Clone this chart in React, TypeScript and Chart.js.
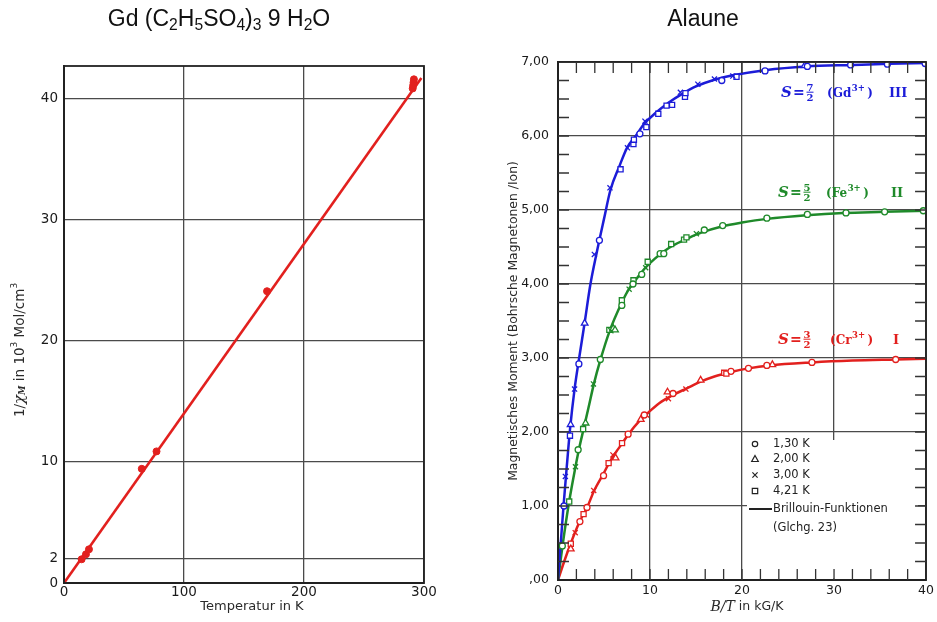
import React, { useEffect, useRef } from "react";
import { Chart, registerables } from "chart.js";

Chart.register(...registerables);

const SANS = '"DejaVu Sans", "Liberation Sans", sans-serif';
const SERIF = '"DejaVu Serif", "Liberation Serif", serif';
const RED = "#e2201e";
const GREEN = "#1f8a2a";
const BLUE = "#1c1cd8";
const GRID = "#4a4a4a";
const INK = "#222222";
const LABEL = "#1a1a1a";

// ---------- Left chart: Gd (C2H5SO4)3 9 H2O ----------
const gdTemperature = [14.7, 18.3, 20.8, 64.8, 77.1, 169.2, 290.6, 291.0, 291.3, 291.6];
const gdInverseChi = [1.96, 2.37, 2.78, 9.43, 10.87, 24.1, 40.85, 41.1, 41.35, 41.6];
const gdFitTemperature = [0, 297.8];
const gdFitInverseChi = [0, 41.7];
const leftXTicks = [0, 100, 200, 300];
const leftYTicks = [0, 2, 10, 20, 30, 40];

// ---------- Right chart: Alaune ----------
const rightXTicks = [0, 10, 20, 30, 40];
const rightYTicks = [0, 1, 2, 3, 4, 5, 6, 7];
const rightYTickLabels = [",00", "1,00", "2,00", "3,00", "4,00", "5,00", "6,00", "7,00"];
const minorXTicks = [2, 4, 6, 8, 10, 12, 14, 16, 18, 20, 22, 24, 26, 28, 30, 32, 34, 36, 38];
const minorYTicks = [
  0.25, 0.5, 0.75, 1, 1.25, 1.5, 1.75, 2, 2.25, 2.5, 2.75, 3, 3.25, 3.5, 3.75, 4,
  4.25, 4.5, 4.75, 5, 5.25, 5.5, 5.75, 6, 6.25, 6.5, 6.75,
];

// Brillouin curves
const gdCurve: [number, number][] = [
  [0, 0], [0.3, 0.5], [0.6, 1.0], [1.0, 1.6], [1.3, 2.03], [1.8, 2.58], [2.3, 3.0],
  [2.9, 3.48], [3.5, 3.98], [4.2, 4.42], [5.0, 4.88], [5.7, 5.27], [6.7, 5.6], [7.5, 5.84],
  [8.5, 6.01], [9.4, 6.17], [10.5, 6.3], [12, 6.45], [13.5, 6.57], [15, 6.67], [17, 6.76],
  [19, 6.82], [22.5, 6.89], [27, 6.94], [32, 6.96], [36, 6.975], [40, 6.985],
];
const feCurve: [number, number][] = [
  [0, 0], [0.5, 0.47], [1.2, 1.05], [1.9, 1.53], [2.3, 1.78], [2.8, 2.05], [3.3, 2.32],
  [3.9, 2.65], [4.6, 2.97], [5.6, 3.36], [6.9, 3.74], [7.8, 3.95], [8.6, 4.08], [9.5, 4.22],
  [10.5, 4.34], [11.5, 4.44], [12.5, 4.52], [14, 4.61], [15.5, 4.69], [17.9, 4.78],
  [20, 4.83], [22.7, 4.88], [27, 4.93], [31, 4.96], [35.5, 4.975], [40, 4.99],
];
const crCurve: [number, number][] = [
  [0, 0], [0.7, 0.26], [1.4, 0.5], [1.9, 0.66], [2.4, 0.8], [3.2, 0.99], [3.9, 1.2],
  [5.0, 1.45], [5.5, 1.57], [6.2, 1.71], [7.0, 1.85], [7.6, 1.96], [9.0, 2.17], [9.6, 2.24],
  [11, 2.39], [12.5, 2.5], [14, 2.59], [15.5, 2.68], [17, 2.75], [18.8, 2.81], [20.7, 2.86],
  [23, 2.9], [27.6, 2.94], [32, 2.965], [36.7, 2.98], [40, 2.99],
];

// Measured points, Gd3+
const gdCircle: [number, number][] = [
  [0.65, 1.0], [2.27, 2.92], [4.5, 4.59], [8.9, 6.03], [17.8, 6.75], [22.5, 6.88],
  [27.1, 6.94], [31.8, 6.96], [35.8, 6.97], [39.9, 6.98],
];
const gdTriangle: [number, number][] = [[1.37, 2.1], [2.9, 3.47], [26.8, 6.95]];
const gdCross: [number, number][] = [
  [0.8, 1.4], [1.8, 2.58], [3.95, 4.4], [5.65, 5.3], [7.55, 5.84], [9.45, 6.2], [13.3, 6.59],
  [15.2, 6.7], [17.0, 6.77], [19.0, 6.81],
];
const gdSquare: [number, number][] = [
  [1.3, 1.95], [6.8, 5.55], [8.2, 5.89], [8.25, 5.95], [9.6, 6.12], [10.9, 6.3], [11.8, 6.41],
  [12.4, 6.42], [13.8, 6.53], [13.85, 6.58], [19.4, 6.8],
];

// Measured points, Fe3+
const feCircle: [number, number][] = [
  [0.47, 0.46], [2.19, 1.76], [4.6, 2.98], [6.94, 3.71], [8.15, 4.0], [9.1, 4.13], [11.1, 4.41],
  [11.5, 4.41], [15.9, 4.73], [17.9, 4.79], [22.7, 4.89], [27.1, 4.94], [31.3, 4.96],
  [35.5, 4.975], [39.7, 4.99],
];
const feTriangle: [number, number][] = [[3.0, 2.12], [6.0, 3.4], [6.2, 3.38]];
const feCross: [number, number][] = [
  [1.9, 1.53], [3.85, 2.65], [5.75, 3.37], [7.73, 3.93], [9.53, 4.22], [15.04, 4.68],
];
const feSquare: [number, number][] = [
  [1.22, 1.06], [2.73, 2.04], [5.58, 3.38], [6.94, 3.78], [8.2, 4.05], [9.75, 4.3],
  [12.3, 4.54], [13.7, 4.6], [13.96, 4.63],
];

// Measured points, Cr3+
const crCircle: [number, number][] = [
  [2.38, 0.79], [3.15, 0.98], [4.95, 1.41], [7.62, 1.97], [9.38, 2.23], [12.5, 2.52],
  [18.8, 2.82], [20.7, 2.86], [22.7, 2.9], [27.6, 2.94], [36.7, 2.98],
];
const crTriangle: [number, number][] = [
  [1.39, 0.42], [6.26, 1.65], [9.0, 2.17], [11.9, 2.54], [15.5, 2.7], [23.3, 2.91],
];
const crCross: [number, number][] = [
  [1.87, 0.64], [3.88, 1.21], [5.97, 1.69], [9.63, 2.23], [12.0, 2.45], [13.9, 2.58],
];
const crSquare: [number, number][] = [
  [1.39, 0.49], [2.78, 0.89], [5.5, 1.58], [6.96, 1.85], [18.06, 2.8], [18.3, 2.79],
];

const legendLabels = ["1,30 K", "2,00 K", "3,00 K", "4,21 K"];
const legendStyles = ["circle", "triangle", "crossRot", "rect"];
const curveLegendLines = ["Brillouin-Funktionen", "(Glchg. 23)"];

const toXY = (pairs: [number, number][]) => pairs.map(([x, y]) => ({ x, y }));

// ---------- helpers ----------
type Run = { text: string; font: string; dy?: number };
function runsWidth(ctx: CanvasRenderingContext2D, runs: Run[]) {
  let w = 0;
  for (const r of runs) {
    ctx.font = r.font;
    w += ctx.measureText(r.text).width;
  }
  return w;
}
function drawRuns(ctx: CanvasRenderingContext2D, runs: Run[], x: number, y: number) {
  let cx = x;
  for (const r of runs) {
    ctx.font = r.font;
    ctx.fillText(r.text, cx, y + (r.dy || 0));
    cx += ctx.measureText(r.text).width;
  }
}
function drawRunsCentered(ctx: CanvasRenderingContext2D, runs: Run[], cx: number, cy: number, rotate: boolean) {
  ctx.save();
  ctx.translate(cx, cy);
  if (rotate) ctx.rotate(-Math.PI / 2);
  ctx.textAlign = "left";
  ctx.textBaseline = "middle";
  const w = runsWidth(ctx, runs);
  drawRuns(ctx, runs, -w / 2, 0);
  ctx.restore();
}
function drawMarker(ctx: CanvasRenderingContext2D, style: string, x: number, y: number) {
  ctx.beginPath();
  if (style === "circle") {
    ctx.arc(x, y, 2.7, 0, Math.PI * 2);
  } else if (style === "triangle") {
    ctx.moveTo(x, y - 3.5);
    ctx.lineTo(x + 3.3, y + 2.5);
    ctx.lineTo(x - 3.3, y + 2.5);
    ctx.closePath();
  } else if (style === "crossRot") {
    ctx.moveTo(x - 2.6, y - 2.6);
    ctx.lineTo(x + 2.6, y + 2.6);
    ctx.moveTo(x + 2.6, y - 2.6);
    ctx.lineTo(x - 2.6, y + 2.6);
  } else {
    ctx.rect(x - 2.7, y - 2.7, 5.4, 5.4);
  }
  ctx.stroke();
}
function drawSpinLabel(
  ctx: CanvasRenderingContext2D,
  color: string,
  x0: number,
  base: number,
  num: string,
  ion: string,
  roman: string,
  romanX: number,
  ionX: number
) {
  ctx.save();
  ctx.fillStyle = color;
  ctx.strokeStyle = color;
  ctx.textBaseline = "alphabetic";
  ctx.textAlign = "left";
  ctx.font = `italic bold 15px ${SERIF}`;
  ctx.fillText("S", x0, base);
  ctx.font = `bold 14px ${SERIF}`;
  ctx.fillText("=", x0 + 12, base);
  const fx = x0 + 29;
  ctx.font = `bold 10px ${SERIF}`;
  ctx.textAlign = "center";
  ctx.fillText(num, fx, base - 6.5);
  ctx.fillText("2", fx, base + 4);
  ctx.lineWidth = 1;
  ctx.beginPath();
  ctx.moveTo(fx - 3.5, base - 4.8);
  ctx.lineTo(fx + 3.5, base - 4.8);
  ctx.stroke();
  ctx.textAlign = "left";
  let cx = ionX;
  ctx.font = `bold 12px ${SERIF}`;
  ctx.fillText("(" + ion, cx, base);
  cx += ctx.measureText("(" + ion).width + 0.5;
  ctx.font = `bold 8.5px ${SERIF}`;
  ctx.fillText("3+", cx, base - 6.5);
  cx += ctx.measureText("3+").width + 2.5;
  ctx.font = `bold 12px ${SERIF}`;
  ctx.fillText(")", cx, base);
  ctx.font = `bold 13px ${SERIF}`;
  ctx.fillText(roman, romanX, base);
  ctx.restore();
}

// ---------- plugins ----------
const leftDecor = {
  id: "leftDecor",
  afterDraw(chart: any) {
    const { ctx, chartArea: a } = chart;
    ctx.save();
    ctx.strokeStyle = INK;
    ctx.lineWidth = 1.8;
    ctx.strokeRect(a.left, a.top, a.right - a.left, a.bottom - a.top);
    ctx.fillStyle = "#2a2a2a";
    drawRunsCentered(ctx, [{ text: "Temperatur in K", font: `13px ${SANS}` }], 252, 607, false);
    drawRunsCentered(
      ctx,
      [
        { text: "1/", font: `13.5px ${SANS}` },
        { text: "χ", font: `italic 15px ${SERIF}` },
        { text: "M", font: `italic bold 8.5px ${SERIF}`, dy: 3 },
        { text: " in 10", font: `13.5px ${SANS}` },
        { text: "3", font: `9px ${SANS}`, dy: -5 },
        { text: " Mol/cm", font: `13.5px ${SANS}` },
        { text: "3", font: `9px ${SANS}`, dy: -5 },
      ],
      20,
      350,
      true
    );
    ctx.restore();
  },
};

const rightDecor = {
  id: "rightDecor",
  beforeDatasetsDraw(chart: any) {
    const { ctx, chartArea: a } = chart;
    ctx.save();
    ctx.fillStyle = "#ffffff";
    ctx.fillRect(277, 440, 448 - 277, a.bottom - 1.5 - 440);
    ctx.restore();
  },
  afterDraw(chart: any) {
    const { ctx, chartArea: a, scales } = chart;
    const xs = scales.x;
    const ys = scales.y;
    ctx.save();
    ctx.strokeStyle = INK;
    ctx.lineWidth = 1.8;
    ctx.strokeRect(a.left, a.top, a.right - a.left, a.bottom - a.top);
    ctx.lineWidth = 1.3;
    ctx.strokeStyle = "#333";
    ctx.beginPath();
    for (const v of minorXTicks) {
      const px = xs.getPixelForValue(v);
      ctx.moveTo(px, a.top);
      ctx.lineTo(px, a.top + 11);
      ctx.moveTo(px, a.bottom);
      ctx.lineTo(px, a.bottom - 11);
    }
    for (const v of minorYTicks) {
      const py = ys.getPixelForValue(v);
      ctx.moveTo(a.left, py);
      ctx.lineTo(a.left + 11, py);
      ctx.moveTo(a.right, py);
      ctx.lineTo(a.right - 11, py);
    }
    ctx.stroke();

    // legend
    ctx.strokeStyle = "#222";
    ctx.fillStyle = "#222";
    ctx.lineWidth = 1.2;
    const rowY = [444, 459, 475, 491];
    legendLabels.forEach((lab, i) => {
      drawMarker(ctx, legendStyles[i], 285, rowY[i]);
      ctx.font = `11.5px ${SANS}`;
      ctx.textAlign = "left";
      ctx.textBaseline = "middle";
      ctx.fillText(lab, 303, rowY[i]);
    });
    ctx.lineWidth = 2;
    ctx.beginPath();
    ctx.moveTo(279, 509);
    ctx.lineTo(302, 509);
    ctx.stroke();
    ctx.font = `11.5px ${SANS}`;
    ctx.fillText(curveLegendLines[0], 303, 509);
    ctx.fillText(curveLegendLines[1], 303, 528);

    // curve labels
    drawSpinLabel(ctx, BLUE, 311, 97, "7", "Gd", "III", 419, 357);
    drawSpinLabel(ctx, GREEN, 308, 197, "5", "Fe", "II", 421, 356);
    drawSpinLabel(ctx, RED, 308, 344, "3", "Cr", "I", 423, 360);

    // axis titles
    ctx.fillStyle = "#2a2a2a";
    drawRunsCentered(
      ctx,
      [
        { text: "B/T", font: `italic 14px ${SERIF}` },
        { text: " in kG/K", font: `12.5px ${SANS}` },
      ],
      277,
      607,
      false
    );
    drawRunsCentered(
      ctx,
      [{ text: "Magnetisches Moment (Bohrsche Magnetonen /Ion)", font: `12.4px ${SANS}` }],
      44,
      321,
      true
    );
    ctx.restore();
  },
};

function markerSet(data: [number, number][], color: string, style: string) {
  return {
    type: "scatter",
    data: toXY(data),
    pointStyle: style,
    pointRadius: style === "circle" ? 3 : style === "triangle" ? 3.8 : 3.6,
    pointBorderWidth: 1.3,
    borderColor: color,
    backgroundColor: "#ffffff",
    showLine: false,
    order: 1,
  };
}
function curveSet(data: [number, number][], color: string) {
  return {
    type: "line",
    data: toXY(data),
    borderColor: color,
    borderWidth: 2.5,
    pointRadius: 0,
    showLine: true,
    fill: false,
    cubicInterpolationMode: "monotone",
    order: 2,
  };
}

export default function App() {
  const leftRef = useRef<HTMLCanvasElement>(null);
  const rightRef = useRef<HTMLCanvasElement>(null);

  useEffect(() => {
    const left = new Chart(leftRef.current as HTMLCanvasElement, {
      type: "scatter",
      data: {
        datasets: [
          {
            type: "line",
            data: gdFitTemperature.map((t, i) => ({ x: t, y: gdFitInverseChi[i] })),
            borderColor: RED,
            borderWidth: 2.6,
            pointRadius: 0,
            order: 2,
          } as any,
          {
            type: "scatter",
            data: gdTemperature.map((t, i) => ({ x: t, y: gdInverseChi[i] })),
            backgroundColor: RED,
            borderColor: RED,
            pointRadius: 3.5,
            order: 1,
          } as any,
        ],
      },
      options: {
        responsive: false,
        animation: false,
        layout: { padding: { left: 0, right: 46, top: 66, bottom: 0 } },
        plugins: { legend: { display: false }, tooltip: { enabled: false } },
        scales: {
          x: {
            type: "linear",
            min: 0,
            max: 300,
            afterBuildTicks: (s: any) => {
              s.ticks = leftXTicks.map((v) => ({ value: v }));
            },
            afterFit: (s: any) => {
              s.height = 39;
            },
            grid: { color: GRID, lineWidth: 1.3, drawTicks: false },
            border: { color: INK, width: 2 },
            ticks: { color: LABEL, font: { family: SANS, size: 13.5 }, padding: 1, maxRotation: 0 },
          },
          y: {
            type: "linear",
            min: 0,
            max: 42.7,
            afterBuildTicks: (s: any) => {
              s.ticks = leftYTicks.map((v) => ({ value: v }));
            },
            afterFit: (s: any) => {
              s.width = 64;
            },
            grid: { color: GRID, lineWidth: 1.3, drawTicks: false },
            border: { color: INK, width: 2 },
            ticks: { color: LABEL, font: { family: SANS, size: 13.5 }, padding: 6 },
          },
        },
      } as any,
      plugins: [leftDecor],
    });

    const right = new Chart(rightRef.current as HTMLCanvasElement, {
      type: "scatter",
      data: {
        datasets: [
          curveSet(gdCurve, BLUE),
          curveSet(feCurve, GREEN),
          curveSet(crCurve, RED),
          markerSet(gdCircle, BLUE, "circle"),
          markerSet(gdTriangle, BLUE, "triangle"),
          markerSet(gdCross, BLUE, "crossRot"),
          markerSet(gdSquare, BLUE, "rect"),
          markerSet(feCircle, GREEN, "circle"),
          markerSet(feTriangle, GREEN, "triangle"),
          markerSet(feCross, GREEN, "crossRot"),
          markerSet(feSquare, GREEN, "rect"),
          markerSet(crCircle, RED, "circle"),
          markerSet(crTriangle, RED, "triangle"),
          markerSet(crCross, RED, "crossRot"),
          markerSet(crSquare, RED, "rect"),
        ] as any,
      },
      options: {
        responsive: false,
        animation: false,
        layout: { padding: { left: 0, right: 10, top: 62, bottom: 0 } },
        plugins: { legend: { display: false }, tooltip: { enabled: false } },
        scales: {
          x: {
            type: "linear",
            min: 0,
            max: 40,
            afterBuildTicks: (s: any) => {
              s.ticks = rightXTicks.map((v) => ({ value: v }));
            },
            afterFit: (s: any) => {
              s.height = 42;
            },
            grid: { color: GRID, lineWidth: 1.3, drawTicks: false },
            border: { color: INK, width: 2 },
            ticks: { color: LABEL, font: { family: SANS, size: 12.5 }, padding: 3, maxRotation: 0 },
          },
          y: {
            type: "linear",
            min: 0,
            max: 7,
            afterBuildTicks: (s: any) => {
              s.ticks = rightYTicks.map((v) => ({ value: v }));
            },
            afterFit: (s: any) => {
              s.width = 88;
            },
            grid: { color: GRID, lineWidth: 1.3, drawTicks: false },
            border: { color: INK, width: 2 },
            ticks: {
              color: LABEL,
              font: { family: SANS, size: 12.5 },
              padding: 9,
              callback: (_v: any, i: number) => rightYTickLabels[i],
            },
          },
        },
      } as any,
      plugins: [rightDecor],
    });

    return () => {
      left.destroy();
      right.destroy();
    };
  }, []);

  const subStyle: React.CSSProperties = { fontSize: "0.68em", verticalAlign: "-0.28em", lineHeight: 0 };
  return (
    <div
      style={{
        position: "absolute",
        left: 0,
        top: 0,
        width: 937,
        height: 622,
        background: "#ffffff",
        overflow: "hidden",
        fontFamily: '"Liberation Sans", Arial, sans-serif',
      }}
    >
      <canvas ref={leftRef} width={470} height={622} style={{ position: "absolute", left: 0, top: 0 }} />
      <canvas ref={rightRef} width={467} height={622} style={{ position: "absolute", left: 470, top: 0 }} />
      <div
        style={{
          position: "absolute",
          left: 0,
          top: 5,
          width: 438,
          textAlign: "center",
          fontSize: 23,
          lineHeight: "26px",
          color: "#111",
        }}
      >
        Gd (C<sub style={subStyle}>2</sub>H<sub style={subStyle}>5</sub>SO<sub style={subStyle}>4</sub>)
        <sub style={subStyle}>3</sub> 9 H<sub style={subStyle}>2</sub>O
      </div>
      <div
        style={{
          position: "absolute",
          left: 603,
          top: 5,
          width: 200,
          textAlign: "center",
          fontSize: 23,
          lineHeight: "26px",
          color: "#111",
        }}
      >
        Alaune
      </div>
    </div>
  );
}
